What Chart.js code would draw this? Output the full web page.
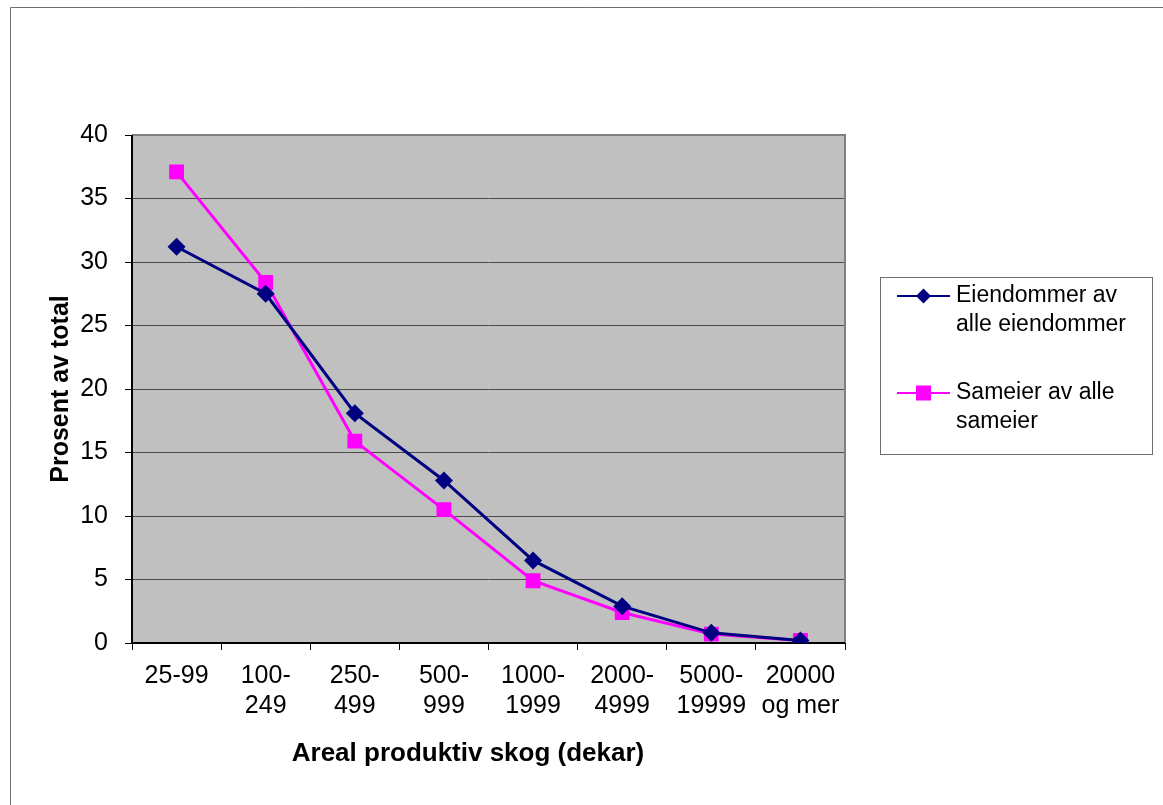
<!DOCTYPE html>
<html>
<head>
<meta charset="utf-8">
<script src="https://cdn.jsdelivr.net/npm/chart.js@4"></script>
<style>
  html, body { margin: 0; padding: 0; background: #fff; }
  #wrap { position: relative; width: 1163px; height: 805px; }
</style>
</head>
<body>
<div id="wrap"><canvas id="c" width="1163" height="805"></canvas></div>
<script>
const categories = [["25-99"], ["100-", "249"], ["250-", "499"], ["500-", "999"], ["1000-", "1999"], ["2000-", "4999"], ["5000-", "19999"], ["20000", "og mer"]];
const eiendommer = [31.2, 27.5, 18.1, 12.8, 6.5, 2.9, 0.8, 0.2];
const sameier = [37.1, 28.4, 15.9, 10.5, 4.9, 2.4, 0.7, 0.2];
const seriesNames = ["Eiendommer av alle eiendommer", "Sameier av alle sameier"];
const legendLines = [["Eiendommer av", "alle eiendommer"], ["Sameier av alle", "sameier"]];
const yTitle = "Prosent av total";
const xTitle = "Areal produktiv skog (dekar)";

const FONT = "'Liberation Sans', Arial, sans-serif";

const frame = {
  id: 'frame',
  beforeDraw(chart) {
    const ctx = chart.ctx;
    ctx.save();
    ctx.fillStyle = '#ffffff';
    ctx.fillRect(0, 0, chart.width, chart.height);
    ctx.strokeStyle = '#6e6e6e';
    ctx.lineWidth = 1;
    ctx.beginPath();
    ctx.moveTo(10.5, 805);
    ctx.lineTo(10.5, 7.5);
    ctx.lineTo(1163, 7.5);
    ctx.stroke();
    const a = chart.chartArea;
    ctx.fillStyle = '#c0c0c0';
    ctx.fillRect(a.left, a.top, a.right - a.left, a.bottom - a.top);
    ctx.restore();
  },
  beforeDatasetsDraw(chart) {
    const ctx = chart.ctx;
    const a = chart.chartArea;
    ctx.save();
    ctx.strokeStyle = '#808080';
    ctx.lineWidth = 2;
    ctx.beginPath();
    ctx.moveTo(a.left, a.top);
    ctx.lineTo(a.right, a.top);
    ctx.lineTo(a.right, a.bottom);
    ctx.stroke();
    ctx.strokeStyle = '#000000';
    ctx.lineWidth = 2;
    ctx.beginPath();
    ctx.moveTo(a.left, a.top);
    ctx.lineTo(a.left, a.bottom);
    ctx.lineTo(a.right, a.bottom);
    ctx.stroke();
    ctx.restore();
  },
  afterDraw(chart) {
    const ctx = chart.ctx;
    ctx.save();
    // x axis title (Excel centres it on the whole chart)
    ctx.fillStyle = '#000000';
    ctx.font = 'bold 26px ' + FONT;
    ctx.textAlign = 'center';
    ctx.textBaseline = 'middle';
    ctx.fillText(xTitle, 468, 754);
    // legend box
    const bx = 880.5, by = 277.5, bw = 272, bh = 177;
    ctx.fillStyle = '#ffffff';
    ctx.fillRect(bx, by, bw, bh);
    ctx.strokeStyle = '#6e6e6e';
    ctx.lineWidth = 1;
    ctx.strokeRect(bx, by, bw, bh);
    const itemY = [296, 393];
    chart.data.datasets.forEach((ds, i) => {
      const y = itemY[i];
      ctx.strokeStyle = ds.borderColor;
      ctx.lineWidth = 2;
      ctx.beginPath();
      ctx.moveTo(897, y);
      ctx.lineTo(950, y);
      ctx.stroke();
      ctx.fillStyle = ds.pointBackgroundColor;
      if (ds.pointStyle === 'rectRot') {
        ctx.beginPath();
        ctx.moveTo(923.5, y - 7.5);
        ctx.lineTo(931, y);
        ctx.lineTo(923.5, y + 7.5);
        ctx.lineTo(916, y);
        ctx.closePath();
        ctx.fill();
      } else {
        ctx.fillRect(916, y - 7.5, 15, 15);
      }
      ctx.fillStyle = '#000000';
      ctx.font = '23px ' + FONT;
      ctx.textBaseline = 'middle';
      ctx.textAlign = 'left';
      legendLines[i].forEach((t, j) => ctx.fillText(t, 956, y + j * 29));
    });
    ctx.restore();
  }
};

new Chart(document.getElementById('c'), {
  type: 'line',
  data: {
    labels: categories,
    datasets: [
      {
        label: seriesNames[0],
        data: eiendommer,
        borderColor: '#000080',
        backgroundColor: '#000080',
        pointBackgroundColor: '#000080',
        pointBorderColor: '#000080',
        pointStyle: 'rectRot',
        pointRadius: 9,
        pointBorderWidth: 0,
        borderWidth: 3,
        tension: 0
      },
      {
        label: seriesNames[1],
        data: sameier,
        borderColor: '#ff00ff',
        backgroundColor: '#ff00ff',
        pointBackgroundColor: '#ff00ff',
        pointBorderColor: '#ff00ff',
        pointStyle: 'rect',
        pointRadius: 10.5,
        pointBorderWidth: 0,
        borderWidth: 3,
        tension: 0
      }
    ]
  },
  options: {
    responsive: false,
    animation: false,
    devicePixelRatio: 1,
    layout: { padding: { left: 0, top: 135, right: 318, bottom: 0 } },
    plugins: { legend: { display: false }, tooltip: { enabled: false } },
    scales: {
      x: {
        type: 'category',
        offset: true,
        afterFit(s) { s.height = 162; },
        grid: { display: true, offset: true, drawOnChartArea: false, tickLength: 7, color: '#000000', lineWidth: 1 },
        border: { display: false },
        ticks: { color: '#000000', font: { family: FONT, size: 25, lineHeight: 1.2 }, padding: 11, maxRotation: 0, autoSkip: false },
        title: { display: false, text: xTitle }
      },
      y: {
        min: 0, max: 40,
        afterFit(s) { s.width = 132; },
        grid: { color: '#4a4a4a', lineWidth: 1, tickLength: 7, tickColor: '#000000' },
        border: { display: false },
        ticks: { stepSize: 5, color: '#000000', font: { family: FONT, size: 25 }, padding: 17 },
        title: { display: true, text: yTitle, color: '#000000', font: { family: FONT, size: 25, weight: 'bold' }, padding: { top: 46, bottom: 0 } }
      }
    }
  },
  plugins: [frame]
});
</script>
</body>
</html>
